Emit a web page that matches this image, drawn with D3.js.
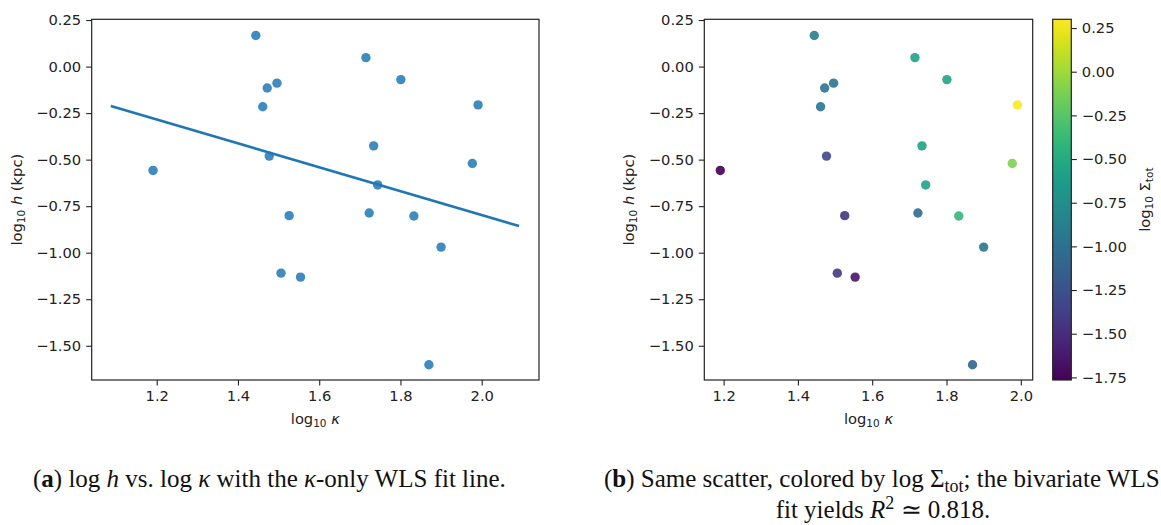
<!DOCTYPE html>
<html>
<head>
<meta charset="utf-8">
<script src="https://cdn.jsdelivr.net/npm/d3@7"></script>
<style>
  body { margin: 0; background: #fff; }
  svg { display: block; }
  .tick text { font-family: "DejaVu Sans", sans-serif; font-size: 14.7px; fill: #222; }
  .lab { font-family: "DejaVu Sans", sans-serif; font-size: 14.7px; fill: #222; }
  .cap { font-family: "Liberation Serif", serif; font-size: 25px; fill: #111; }
</style>
</head>
<body>
<svg id="chart" width="1161" height="525"></svg>
<script>
// donnees
const logKappa = [1.444, 1.472, 1.496, 1.461, 1.477, 1.191, 1.526, 1.506, 1.554, 1.715,
                  1.801, 1.991, 1.734, 1.977, 1.744, 1.723, 1.833, 1.900, 1.870];
const logH = [0.167, -0.115, -0.089, -0.216, -0.481, -0.558, -0.801, -1.110, -1.131, 0.048,
              -0.070, -0.206, -0.426, -0.521, -0.636, -0.787, -0.803, -0.970, -1.602];
const logSigma = [-0.90, -0.98, -0.96, -0.97, -1.31, -1.765, -1.45, -1.44, -1.66, -0.57,
                  -0.56, 0.30, -0.58, -0.11, -0.57, -1.04, -0.40, -0.98, -1.10];
// droite WLS (kappa seul)
const fitK = [1.087, 2.092];
const fitH = [-0.212, -0.857];

const xTicks = [1.2, 1.4, 1.6, 1.8, 2.0];
const yTicks = [0.25, 0.00, -0.25, -0.50, -0.75, -1.00, -1.25, -1.50];
const cTicks = [0.25, 0.00, -0.25, -0.50, -0.75, -1.00, -1.25, -1.50, -1.75];

const svg = d3.select("#chart");
const plotTop = 19.3, plotBottom = 380;
const minus = s => s.replace("-", "\u2212");

const y = d3.scaleLinear().domain([-1.684, 0.254]).range([plotBottom, plotTop]);
const xA = d3.scaleLinear().domain([1.04, 2.141]).range([91.7, 539]);
const xB = d3.scaleLinear().domain([1.148, 2.032]).range([704.3, 1032.7]);
const color = d3.scaleSequential(d3.interpolateViridis).domain([-1.765, 0.30]);

// cadre + axes d'un panneau
function drawAxes(x) {
    const g = svg.append("g");
    g.append("g")
        .attr("transform", `translate(0,${plotBottom})`)
        .call(d3.axisBottom(x).tickValues(xTicks).tickFormat(d3.format(".1f")).tickSizeInner(5.5).tickSizeOuter(0).tickPadding(5));
    g.append("g")
        .attr("transform", `translate(${x.range()[0]},0)`)
        .call(d3.axisLeft(y).tickValues(yTicks).tickFormat(d => minus(d3.format(".2f")(d))).tickSizeInner(5.5).tickSizeOuter(0).tickPadding(5));
    g.selectAll(".domain").remove();
    g.selectAll(".tick line").attr("stroke", "#222").attr("stroke-width", 1.1);
    g.selectAll(".tick text").attr("font-family", null).attr("font-size", null);
    g.append("rect")
        .attr("x", x.range()[0]).attr("y", plotTop)
        .attr("width", x.range()[1] - x.range()[0]).attr("height", plotBottom - plotTop)
        .attr("fill", "none").attr("stroke", "#222").attr("stroke-width", 1.2);

    // titre x
    const xl = g.append("text").attr("class", "lab")
        .attr("x", (x.range()[0] + x.range()[1]) / 2).attr("y", 424)
        .attr("text-anchor", "middle");
    xl.append("tspan").text("log");
    xl.append("tspan").attr("font-size", "10.5px").attr("dy", 3).text("10");
    xl.append("tspan").attr("dy", -3).text(" ");
    xl.append("tspan").attr("font-style", "italic").text("κ");

    // titre y
    const cy = (plotTop + plotBottom) / 2;
    const yl = g.append("text").attr("class", "lab")
        .attr("transform", `translate(${x.range()[0] - 70},${cy}) rotate(-90)`)
        .attr("text-anchor", "middle");
    yl.append("tspan").text("log");
    yl.append("tspan").attr("font-size", "10.5px").attr("dy", 3).text("10");
    yl.append("tspan").attr("dy", -3).text(" ");
    yl.append("tspan").attr("font-style", "italic").text("h");
    yl.append("tspan").text(" (kpc)");
}

// panneau (a)
drawAxes(xA);
svg.append("g").selectAll("circle")
    .data(logKappa)
    .join("circle")
    .attr("cx", d => xA(d))
    .attr("cy", (d, i) => y(logH[i]))
    .attr("r", 4.7)
    .attr("fill", "#1f77b4")
    .attr("fill-opacity", 0.85);

svg.append("path")
    .datum(fitK.map((k, i) => [k, fitH[i]]))
    .attr("d", d3.line().x(d => xA(d[0])).y(d => y(d[1])))
    .attr("fill", "none")
    .attr("stroke", "#1f77b4")
    .attr("stroke-width", 2.6);

// panneau (b)
drawAxes(xB);
svg.append("g").selectAll("circle")
    .data(logKappa)
    .join("circle")
    .attr("cx", d => xB(d))
    .attr("cy", (d, i) => y(logH[i]))
    .attr("r", 4.7)
    .attr("fill", (d, i) => color(logSigma[i]))
    .attr("fill-opacity", 0.9);

// barre de couleur
const cb = { x: 1052.7, w: 18.6 };
const cScale = d3.scaleLinear().domain(color.domain()).range([plotBottom, plotTop]);
const grad = svg.append("defs").append("linearGradient")
    .attr("id", "viridis").attr("x1", 0).attr("y1", 1).attr("x2", 0).attr("y2", 0);
d3.range(0, 1.0001, 0.05).forEach(t => {
    grad.append("stop").attr("offset", t).attr("stop-color", d3.interpolateViridis(t));
});
svg.append("rect")
    .attr("x", cb.x).attr("y", plotTop).attr("width", cb.w).attr("height", plotBottom - plotTop)
    .attr("fill", "url(#viridis)").attr("stroke", "#222").attr("stroke-width", 1.2);
const cAxis = svg.append("g")
    .attr("transform", `translate(${cb.x + cb.w},0)`)
    .call(d3.axisRight(cScale).tickValues(cTicks).tickFormat(d => minus(d3.format(".2f")(d))).tickSizeInner(5.5).tickSizeOuter(0).tickPadding(5));
cAxis.select(".domain").remove();
cAxis.selectAll(".tick line").attr("stroke", "#222").attr("stroke-width", 1.1);
cAxis.selectAll(".tick text").attr("font-family", null).attr("font-size", null);

const cl = svg.append("text").attr("class", "lab")
    .attr("transform", `translate(1150,${(plotTop + plotBottom) / 2}) rotate(-90)`)
    .attr("text-anchor", "middle");
cl.append("tspan").text("log");
cl.append("tspan").attr("font-size", "10.5px").attr("dy", 3).text("10");
cl.append("tspan").attr("dy", -3).text(" Σ");
cl.append("tspan").attr("font-size", "10.5px").attr("dy", 3).text("tot");

// legendes sous les figures
const capA = svg.append("text").attr("class", "cap").attr("x", 33).attr("y", 487);
capA.append("tspan").text("(");
capA.append("tspan").attr("font-weight", "bold").text("a");
capA.append("tspan").text(") log ");
capA.append("tspan").attr("font-style", "italic").text("h");
capA.append("tspan").text(" vs. log ");
capA.append("tspan").attr("font-style", "italic").text("κ");
capA.append("tspan").text(" with the ");
capA.append("tspan").attr("font-style", "italic").text("κ");
capA.append("tspan").text("-only WLS fit line.");

const capB = svg.append("text").attr("class", "cap").attr("x", 604).attr("y", 487);
capB.append("tspan").text("(");
capB.append("tspan").attr("font-weight", "bold").text("b");
capB.append("tspan").text(") Same scatter, colored by log Σ");
capB.append("tspan").attr("font-size", "18px").attr("dy", 5).text("tot");
capB.append("tspan").attr("dy", -5).text("; the bivariate WLS");

const capB2 = svg.append("text").attr("class", "cap").attr("x", 883).attr("y", 518).attr("text-anchor", "middle");
capB2.append("tspan").text("fit yields ");
capB2.append("tspan").attr("font-style", "italic").text("R");
capB2.append("tspan").attr("font-size", "18px").attr("dy", -9).text("2");
capB2.append("tspan").attr("dy", 9).text(" ≃ 0.818.");
</script>
</body>
</html>
